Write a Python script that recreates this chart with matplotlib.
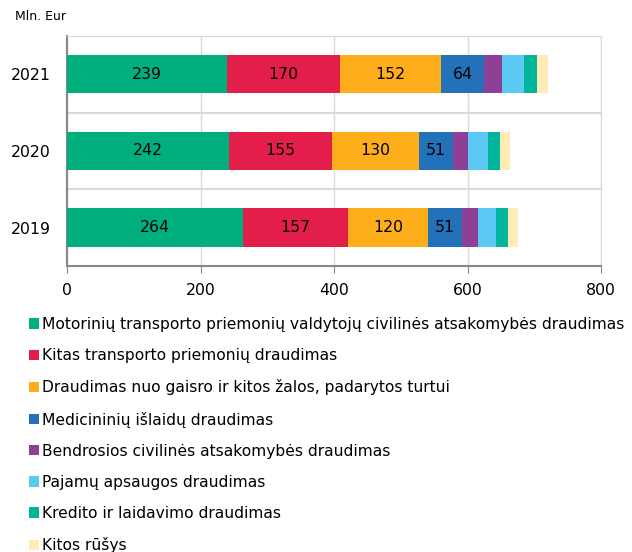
import matplotlib

matplotlib.use("Agg")
import matplotlib.pyplot as plt
from matplotlib.patches import Patch

plt.rcParams.update({
    "font.family": "DejaVu Sans",
    "font.size": 11,
})

years = ["2019", "2020", "2021"]
categories = [
    "Motorinių transporto priemonių valdytojų civilinės atsakomybės draudimas",
    "Kitas transporto priemonių draudimas",
    "Draudimas nuo gaisro ir kitos žalos, padarytos turtui",
    "Medicininių išlaidų draudimas",
    "Bendrosios civilinės atsakomybės draudimas",
    "Pajamų apsaugos draudimas",
    "Kredito ir laidavimo draudimas",
    "Kitos rūšys",
]
# values per category, order: 2019, 2020, 2021
motor_tpl = [264, 242, 239]
kitas_transp = [157, 155, 170]
gaisro = [120, 130, 152]
medicinines = [51, 51, 64]
civiline = [24, 23, 27]
pajamu = [27, 29, 32]
kredito = [17, 19, 20]
kitos = [15, 15, 16]
series = [motor_tpl, kitas_transp, gaisro, medicinines,
          civiline, pajamu, kredito, kitos]
labelled = [True, True, True, True, False, False, False, False]

colors = ["#00af7e", "#e31e4b", "#fdae1a", "#2372b9",
          "#8e3f96", "#5bc9f4", "#00b59c", "#feecb4"]

fig = plt.figure(figsize=(6.32, 5.52), dpi=100)
ax = fig.add_axes([67 / 632, 1 - 266 / 552, 534 / 632, 230 / 552])

ypos = range(len(years))
left = [0] * len(years)
for vals, col, show in zip(series, colors, labelled):
    bars = ax.barh(ypos, vals, left=left, height=0.5, color=col,
                   edgecolor="none", zorder=3)
    if show:
        for rect, v in zip(bars, vals):
            ax.text(rect.get_x() + rect.get_width() / 2,
                    rect.get_y() + rect.get_height() / 2, f"{v}",
                    ha="center", va="center", color="black", fontsize=11.3,
                    zorder=4)
    left = [a + b for a, b in zip(left, vals)]

ax.set_xlim(0, 800)
ax.set_ylim(-0.5, 2.5)
ax.set_xticks([0, 200, 400, 600, 800])
ax.set_yticks(list(ypos))
ax.set_yticklabels(years, fontsize=11.3)
ax.tick_params(axis="y", length=0, pad=11.5)
ax.tick_params(axis="x", length=5, color="#888888", pad=7, labelsize=11.3)

ax.xaxis.grid(True, color="#d9d9d9", lw=1, zorder=0)
for yb in (0.5, 1.5):
    ax.axhline(yb, color="#d9d9d9", lw=1.5, zorder=0)
ax.spines["top"].set_color("#d9d9d9")
ax.spines["right"].set_color("#d9d9d9")
ax.spines["left"].set_color("#888888")
ax.spines["bottom"].set_color("#888888")
ax.spines["left"].set_linewidth(1.5)
ax.spines["bottom"].set_linewidth(1.5)

fig.text(15 / 632, 1 - 17 / 552, "Mln. Eur", fontsize=9, va="center")

handles = [Patch(facecolor=c, edgecolor="none") for c in colors]
fig.legend(handles, categories, loc="upper left",
           bbox_to_anchor=(29 / 632, 1 - 317 / 552), frameon=False,
           handlelength=0.65, handleheight=0.65, handletextpad=0.2,
           labelspacing=1.04, borderpad=0, borderaxespad=0, fontsize=11.2)

fig.savefig("out.png", dpi=100)
